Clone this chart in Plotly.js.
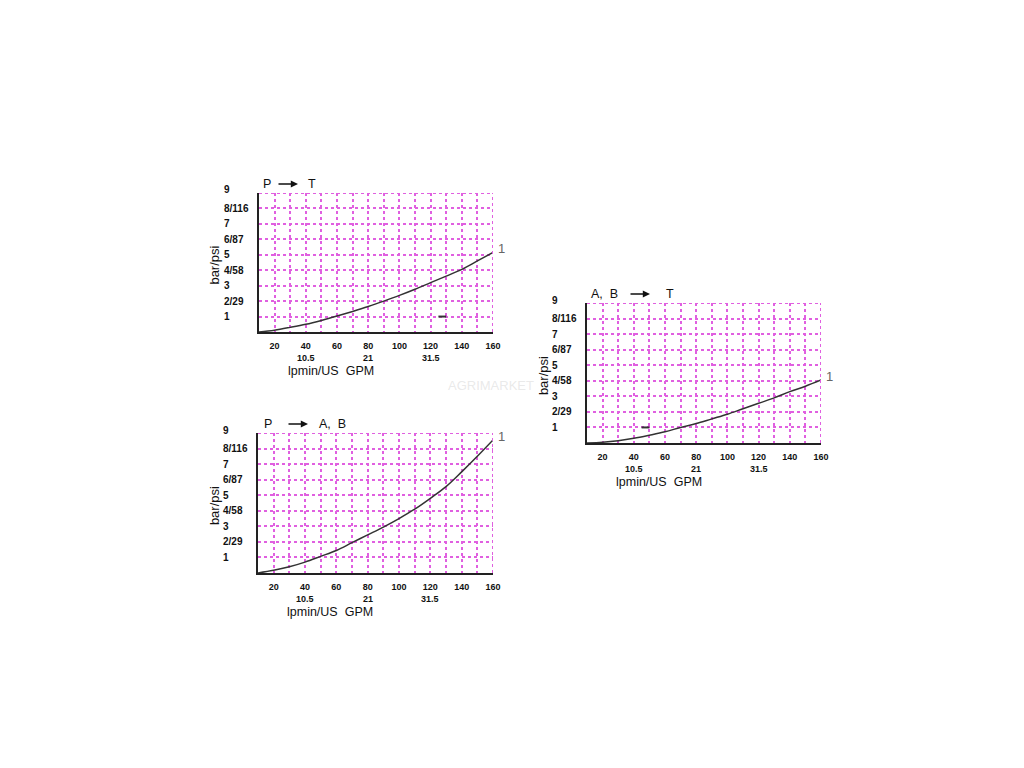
<!DOCTYPE html>
<html>
<head>
<meta charset="utf-8">
<script src="https://cdn.plot.ly/plotly-3.0.1.min.js"></script>
<style>html,body{margin:0;padding:0;background:#fff;}#chart{width:1024px;height:768px;}</style>
</head>
<body>
<div id="chart"></div>
<script>
// ---- data ----
const flow = [10, 20, 30, 40, 50, 60, 70, 80, 90, 100, 110, 120, 130, 140, 150, 160];
const pressPT = [0, 0.12, 0.3, 0.5, 0.75, 1.03, 1.33, 1.65, 2.0, 2.37, 2.77, 3.2, 3.62, 4.05, 4.6, 5.15];
const pressPAB = [0, 0.17, 0.4, 0.7, 1.07, 1.45, 1.95, 2.45, 2.95, 3.5, 4.1, 4.8, 5.55, 6.5, 7.5, 8.55];
const pressABT = [0, 0.05, 0.15, 0.3, 0.5, 0.72, 1.0, 1.25, 1.55, 1.85, 2.2, 2.55, 2.9, 3.3, 3.65, 4.05];
const dashPT = {x: [125, 130], y: [1, 1]};
const dashABT = {x: [45, 50], y: [1, 1]};
const titleFrom = ["P", "P", "A,  B"];
const titleTo = ["T", "A,  B", "T"];
const curveLabel = "1";
const xTickVals = [10, 20, 30, 40, 50, 60, 70, 80, 90, 100, 110, 120, 130, 140, 150, 160];
const xTickText = ["", "20", "", "40", "", "60", "", "80", "", "100", "", "120", "", "140", "", "160"];
const gpmVals = [40, 80, 120];
const gpmText = ["10.5", "21", "31.5"];
const yTickVals = [1, 2, 3, 4, 5, 6, 7, 8, 9];
const yTickText = ["1", "2/29", "3", "4/58", "5", "6/87", "7", "8/116", "9"];
const xTitle = "lpmin/US  GPM";
const yTitle = "bar/psi";
const watermark = "AGRIMARKET";

// ---- layout (pixel boxes of the plot areas) ----
const W = 1024, H = 768;
const boxes = [
  {l: 259, r: 493, t: 193, b: 332},
  {l: 258, r: 493, t: 433, b: 573},
  {l: 587, r: 821, t: 303, b: 443}
];
// title part offsets (px from plot left): from-text, arrow tail, arrow head, to-text
const titleOffsets = [
  {a: 2, t0: 18, t1: 39, b: 47},
  {a: 4, t0: 29, t1: 50, b: 59},
  {a: 2, t0: 42, t1: 63, b: 77}
];
const series = [pressPT, pressPAB, pressABT];
const dashes = [dashPT, null, dashABT];

const FONT = "Liberation Sans, Arial, sans-serif";
const grid = '#e060e0';
const data = [];
const layout = {
  width: W, height: H,
  margin: {l: 0, r: 0, t: 0, b: 0},
  paper_bgcolor: '#fff', plot_bgcolor: '#fff',
  showlegend: false,
  font: {family: FONT, color: '#111'},
  annotations: [],
  shapes: []
};

// watermark (faint)
layout.annotations.push({xref: 'paper', yref: 'paper', x: 446 / W, y: 1 - 385 / H, xanchor: 'left', yanchor: 'middle',
  text: watermark, showarrow: false, font: {family: FONT, size: 13, color: 'rgba(200,200,200,0.4)'}});

boxes.forEach((bx, i) => {
  const n = i === 0 ? '' : String(i + 1);
  const xa = 'xaxis' + n, ya = 'yaxis' + n;
  const xr = 'x' + n, yr = 'y' + n;
  layout[xa] = {
    domain: [bx.l / W, bx.r / W], anchor: yr,
    range: [10, 160], tickmode: 'array', tickvals: xTickVals, ticktext: xTickText,
    showgrid: true, gridcolor: grid, gridwidth: 2, griddash: 'dot',
    showline: true, linecolor: '#222', linewidth: 2, zeroline: false,
    ticks: '', ticklabelstandoff: 4,
    tickfont: {family: FONT, size: 9, color: '#111', weight: 'bold'},
    fixedrange: true
  };
  layout[ya] = {
    domain: [1 - bx.b / H, 1 - bx.t / H], anchor: xr,
    range: [0, 9], tickmode: 'array', tickvals: yTickVals, ticktext: yTickVals.map(() => ''),
    showgrid: true, gridcolor: grid, gridwidth: 2, griddash: 'dot',
    showline: true, linecolor: '#222', linewidth: 2, zeroline: false,
    ticks: '', fixedrange: true
  };
  // top/right border as grid
  layout.shapes.push({type: 'line', xref: xr, yref: yr, x0: 10, x1: 160, y0: 9, y1: 9, line: {color: grid, width: 2, dash: 'dot'}});
  layout.shapes.push({type: 'line', xref: xr, yref: yr, x0: 160, x1: 160, y0: 0, y1: 9, line: {color: grid, width: 2, dash: 'dot'}});

  data.push({x: flow, y: series[i], xaxis: xr, yaxis: yr, mode: 'lines',
    line: {color: '#333', width: 1.5, shape: 'spline'}, hoverinfo: 'skip'});
  if (dashes[i]) {
    data.push({x: dashes[i].x, y: dashes[i].y, xaxis: xr, yaxis: yr, mode: 'lines',
      line: {color: '#333', width: 2}, hoverinfo: 'skip'});
  }

  // y tick labels, left aligned
  yTickVals.forEach((v, k) => {
    layout.annotations.push({xref: xr, yref: yr, x: 10, y: v, xshift: -37, yshift: (v === 9 ? 3 : 0), xanchor: 'left', yanchor: 'middle',
      text: '<b>' + yTickText[k] + '</b>', showarrow: false, font: {family: FONT, size: 10, color: '#111'}});
  });
  // GPM row
  gpmVals.forEach((v, k) => {
    layout.annotations.push({xref: xr, yref: yr, x: v, y: 0, yshift: -26, xanchor: 'center', yanchor: 'middle',
      text: '<b>' + gpmText[k] + '</b>', showarrow: false, font: {family: FONT, size: 9, color: '#111'}});
  });
  // x title
  layout.annotations.push({xref: xr, yref: yr, x: 56, y: 0, yshift: -39, xanchor: 'center', yanchor: 'middle',
    text: xTitle, showarrow: false, font: {family: FONT, size: 12.5, color: '#111'}});
  // y title
  layout.annotations.push({xref: xr, yref: yr, x: 10, y: 4.3, xshift: -44, xanchor: 'center', yanchor: 'middle',
    textangle: -90, text: yTitle, showarrow: false, font: {family: FONT, size: 13, color: '#111'}});
  // chart title: from-text, arrow, to-text
  const o = titleOffsets[i];
  layout.annotations.push({xref: xr, yref: yr, x: 10, y: 9, xshift: o.a, yshift: 9, xanchor: 'left', yanchor: 'middle',
    text: titleFrom[i], showarrow: false, font: {family: FONT, size: 12.5, color: '#111'}});
  layout.annotations.push({xref: xr, yref: yr, x: 10, y: 9, xshift: o.t1, yshift: 9,
    text: '', showarrow: true, ax: -(o.t1 - o.t0), ay: 0, arrowhead: 2, arrowsize: 0.9, arrowwidth: 1.6, arrowcolor: '#111', standoff: 0});
  layout.annotations.push({xref: xr, yref: yr, x: 10, y: 9, xshift: o.b, yshift: 9, xanchor: 'left', yanchor: 'middle',
    text: titleTo[i], showarrow: false, font: {family: FONT, size: 12.5, color: '#111'}});
  // curve label
  const yEnd = series[i][series[i].length - 1];
  layout.annotations.push({xref: xr, yref: yr, x: flow[flow.length - 1], y: yEnd, xshift: 8, yshift: 4, xanchor: 'center', yanchor: 'middle',
    text: curveLabel, showarrow: false, font: {family: FONT, size: 13, color: '#666'}});
});

Plotly.newPlot('chart', data, layout, {displayModeBar: false, staticPlot: true});
</script>
</body>
</html>
